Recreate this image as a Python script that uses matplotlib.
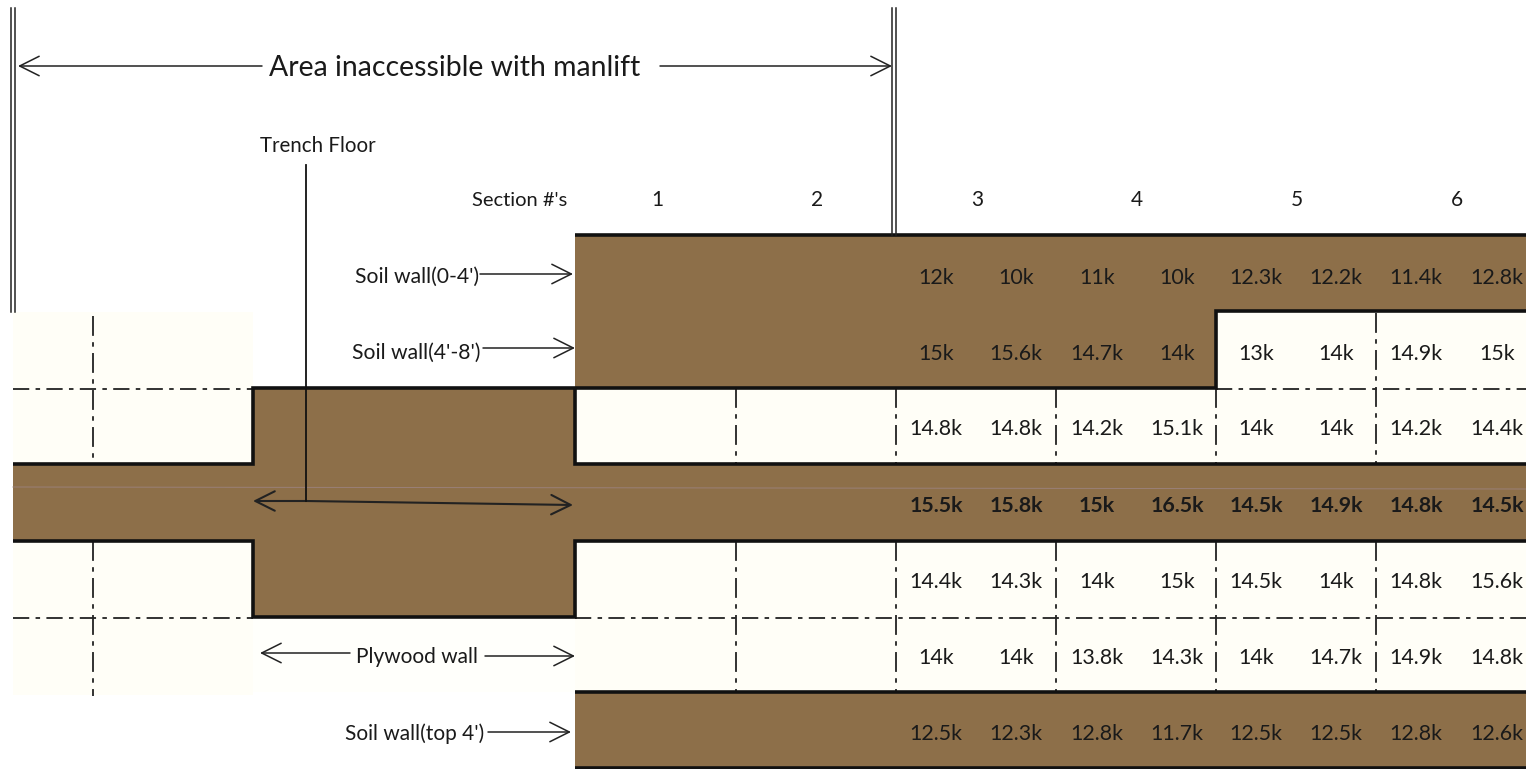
import matplotlib
matplotlib.use("Agg")
import matplotlib.pyplot as plt
from matplotlib.patches import Polygon, Rectangle

plt.rcParams['font.family'] = ['Lato', 'DejaVu Sans']

section_labels = ['1', '2', '3', '4', '5', '6']
row_soil_0_4 = ['12k', '10k', '11k', '10k', '12.3k', '12.2k', '11.4k', '12.8k']
row_soil_4_8 = ['15k', '15.6k', '14.7k', '14k', '13k', '14k', '14.9k', '15k']
row_ply_upper = ['14.8k', '14.8k', '14.2k', '15.1k', '14k', '14k', '14.2k', '14.4k']
row_floor = ['15.5k', '15.8k', '15k', '16.5k', '14.5k', '14.9k', '14.8k', '14.5k']
row_ply_lower = ['14.4k', '14.3k', '14k', '15k', '14.5k', '14k', '14.8k', '15.6k']
row_ply_bottom = ['14k', '14k', '13.8k', '14.3k', '14k', '14.7k', '14.9k', '14.8k']
row_soil_top = ['12.5k', '12.3k', '12.8k', '11.7k', '12.5k', '12.5k', '12.8k', '12.6k']
rows = [row_soil_0_4, row_soil_4_8, row_ply_upper, row_floor, row_ply_lower, row_ply_bottom, row_soil_top]
row_y = [277, 353, 428, 505, 581, 657, 733]
col_x = [936, 1016, 1097, 1177, 1256, 1336, 1416, 1497]
section_x = [657, 817, 977, 1137, 1297, 1457]

BROWN = '#8d6f49'
CREAM = '#fffef7'
INK = '#1a1a1a'
LW = 2.6

fig = plt.figure(figsize=(15.26, 7.69), dpi=100)
ax = fig.add_axes([0, 0, 1, 1])
ax.set_xlim(0, 1526)
ax.set_ylim(769, 0)
ax.axis('off')

# cream backgrounds
for x0, y0, x1, y1 in [(13, 312, 253, 695), (575, 388, 1526, 692), (1216, 311, 1526, 388)]:
    ax.add_patch(Rectangle((x0, y0), x1 - x0, y1 - y0, fc=CREAM, ec='none', zorder=1))
ax.add_patch(Rectangle((253, 617), 322, 75, fc='#fffffb', ec='none', zorder=1))

# soil regions
soil = [
    [(575, 235), (1526, 235), (1526, 311), (1216, 311), (1216, 388), (575, 388)],
    [(13, 464), (253, 464), (253, 388), (575, 388), (575, 464), (1526, 464),
     (1526, 541), (575, 541), (575, 617), (253, 617), (253, 541), (13, 541)],
    [(575, 692), (1526, 692), (1526, 768), (575, 768)],
]
for p in soil:
    ax.add_patch(Polygon(p, closed=True, fc=BROWN, ec='none', zorder=2))
ax.plot([13, 1526], [487, 489], color='#9a8078', lw=0.7, zorder=2.5)

# heavy outlines
outlines = [
    [(575, 235), (1526, 235)],
    [(1526, 311), (1216, 311), (1216, 388), (253, 388), (253, 464), (13, 464)],
    [(575, 388), (575, 464), (1526, 464)],
    [(13, 541), (253, 541), (253, 617), (575, 617), (575, 541), (1526, 541)],
    [(575, 692), (1526, 692)],
    [(575, 768), (1526, 768)],
]
for seg in outlines:
    xs, ys = zip(*seg)
    ax.plot(xs, ys, color='#111111', lw=LW, solid_joinstyle='miter', solid_capstyle='butt', zorder=4)

# dash-dot gridlines
dd = (0, (9, 3.5, 2.5, 3.5))
for x0, x1, y in [(13, 253, 389), (1216, 1526, 389), (13, 253, 618), (575, 1526, 618)]:
    ax.plot([x0, x1], [y, y], color='#222222', lw=1.3, ls=dd, zorder=3)
vd = (0, (11, 3.5, 2.5, 3.5))
for x, y0, y1 in [(93, 316, 464), (93, 541, 696)] + \
        [(x, 388, 464) for x in (736, 896, 1056, 1216)] + [(1376, 313, 464)] + \
        [(x, 541, 692) for x in (736, 896, 1056, 1216, 1376)]:
    ax.plot([x, x], [y0, y1], color='#222222', lw=1.3, ls=vd, zorder=3)

# double boundary lines
for x, y1 in [(11, 312), (15, 312), (892, 235), (896, 235)]:
    ax.plot([x, x], [8, y1], color='#222222', lw=1.1, zorder=5)


def arrow(x0, y0, x1, y1, lw=1.1, head='->,head_length=1.4,head_width=0.7'):
    ax.annotate('', xy=(x1, y1), xytext=(x0, y0),
                arrowprops=dict(arrowstyle=head, lw=lw, color='#222222',
                                shrinkA=0, shrinkB=0), zorder=6)


arrow(262, 66, 18, 66)
arrow(660, 66, 892, 66)
arrow(480, 274, 573, 274)
arrow(483, 348, 575, 348)
arrow(350, 653, 260, 653)
arrow(485, 656, 575, 656)
arrow(488, 732, 571, 732)
arrow(306, 501, 253, 501, lw=1.5)
arrow(306, 501, 573, 505, lw=1.5)
ax.plot([306, 306], [165, 501], color='#111111', lw=1.3, zorder=6)

# annotations
text_kw = dict(ha='center', va='center', color=INK, zorder=7)
ax.text(455, 68, 'Area inaccessible with manlift', fontsize=20.4, **text_kw)
ax.text(318, 146, 'Trench Floor', fontsize=14.8, **text_kw)
ax.text(520, 200, "Section #'s", fontsize=14.5, **text_kw)
ax.text(417, 277, "Soil wall(0-4')", fontsize=15.2, **text_kw)
ax.text(416, 353, "Soil wall(4'-8')", fontsize=15.2, **text_kw)
ax.text(417, 657, 'Plywood wall', fontsize=15, **text_kw)
ax.text(415, 734, "Soil wall(top 4')", fontsize=15, **text_kw)

for x, s in zip(section_x, section_labels):
    ax.text(x, 200, s, fontsize=15, **text_kw)

for i, (row, y) in enumerate(zip(rows, row_y)):
    for x, s in zip(col_x, row):
        ax.text(x, y + 1, s, fontsize=15.4, fontweight='bold' if i == 3 else 'normal', **text_kw)

fig.savefig('out.png', dpi=100, facecolor='white')
